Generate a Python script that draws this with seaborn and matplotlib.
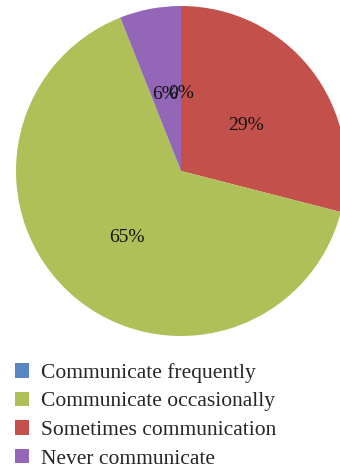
import matplotlib
matplotlib.use("Agg")
import matplotlib.pyplot as plt
from matplotlib.patches import Patch
import seaborn as sns

# Survey responses: share of respondents per communication frequency
categories = ["Communicate frequently", "Communicate occasionally",
              "Sometimes communication", "Never communicate"]
shares = [0, 65, 29, 6]
colors = ["#5A86C4", "#AFC058", "#C4504C", "#9366B8"]

# Clockwise slice order starting at 12 o'clock
slice_order = [0, 2, 1, 3]

sns.set_theme(style="white")
plt.rcParams["font.family"] = ["Liberation Serif", "DejaVu Serif"]

W, H = 340, 469
fig = plt.figure(figsize=(W / 100, H / 100), dpi=100)
fig.patch.set_facecolor("white")

cx, cy, r = 181, 171, 165
ax = fig.add_axes([(cx - r) / W, (H - cy - r) / H, 2 * r / W, 2 * r / H])

vals = [shares[i] for i in slice_order]
cols = [colors[i] for i in slice_order]
wedges, texts, autotexts = ax.pie(
    vals, colors=cols, startangle=90, counterclock=False, radius=1,
    autopct="%.0f%%", pctdistance=0.5,
    wedgeprops=dict(linewidth=0),
    textprops=dict(fontsize=14, color="#111111"),
)
for w in wedges:
    w.set_clip_on(False)
# nudge the percentage labels slightly downward
for t in autotexts:
    x, y = t.get_position()
    t.set_position((x, y - 0.03))
ax.set_xlim(-1, 1)
ax.set_ylim(-1, 1)
ax.set_aspect("equal")
ax.axis("off")

handles = [Patch(facecolor=c, edgecolor="none") for c in colors]
fig.legend(handles, categories, loc="upper left",
           bbox_to_anchor=(15 / W, 1 - 363 / H), frameon=False,
           fontsize=15.5, handlelength=0.65, handleheight=0.65,
           handletextpad=0.55, labelspacing=0.41, borderaxespad=0,
           borderpad=0)

fig.savefig("out.png", dpi=100)
